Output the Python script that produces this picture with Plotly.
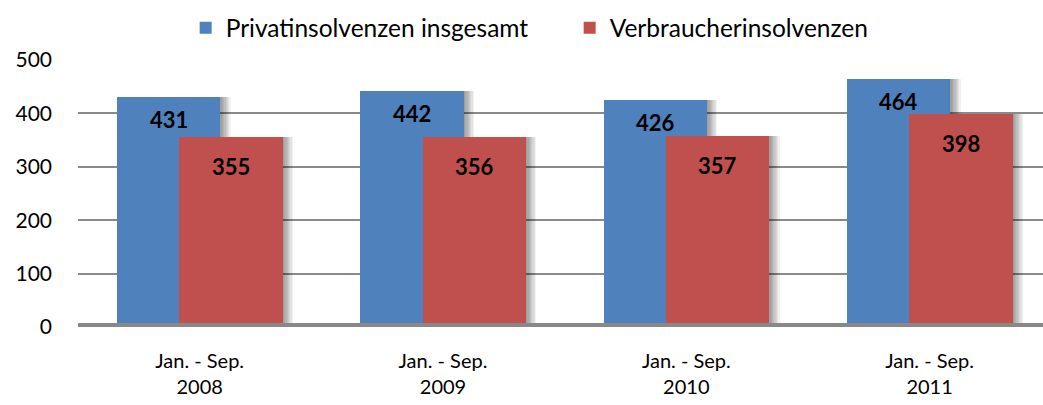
import plotly.graph_objects as go

categories = ["Jan. - Sep.<br>2008", "Jan. - Sep.<br>2009", "Jan. - Sep.<br>2010", "Jan. - Sep.<br>2011"]
privat = [431, 442, 426, 464]
verbraucher = [355, 356, 357, 398]
series_names = ["Privatinsolvenzen insgesamt", "Verbraucherinsolvenzen"]
y_ticks = [0, 100, 200, 300, 400, 500]

BLUE = "#4F81BD"
RED = "#C0504D"
FONT = "Lato"
BAR_W = 0.425
OFF_BLUE = -0.340
OFF_RED = -0.084
PX = 1 / 243.3  # one pixel in x data units

x = list(range(len(categories)))

fig = go.Figure()


def add_shadow(vals, off):
    for k in range(1, 9):
        fig.add_trace(go.Bar(
            x=x, y=vals, width=BAR_W + 1.3 * k * PX, offset=off,
            marker=dict(color="rgba(0,0,0,0.055)", line=dict(width=0)),
            showlegend=False, hoverinfo="skip"))


add_shadow(privat, OFF_BLUE)
fig.add_trace(go.Bar(x=x, y=privat, name=series_names[0], width=BAR_W, offset=OFF_BLUE,
                     marker=dict(color=BLUE, line=dict(width=0))))
add_shadow(verbraucher, OFF_RED)
fig.add_trace(go.Bar(x=x, y=verbraucher, name=series_names[1], width=BAR_W, offset=OFF_RED,
                     marker=dict(color=RED, line=dict(width=0))))

for i in x:
    fig.add_annotation(x=i + OFF_BLUE + BAR_W / 2, y=privat[i], text=str(privat[i]),
                       showarrow=False, yanchor="middle", yshift=-22.5,
                       font=dict(family=FONT, size=22, color="black", weight="bold"))
    fig.add_annotation(x=i + OFF_RED + BAR_W / 2, y=verbraucher[i], text=str(verbraucher[i]),
                       showarrow=False, yanchor="middle", yshift=-29.5,
                       font=dict(family=FONT, size=22, color="black", weight="bold"))

fig.add_shape(type="line", xref="paper", yref="y", x0=0, x1=1, y0=0, y1=0,
              line=dict(color="#888888", width=8), layer="above")

fig.update_layout(
    width=1043, height=405,
    margin=dict(l=78, r=0, t=60, b=78, autoexpand=False),
    paper_bgcolor="white", plot_bgcolor="white",
    barmode="overlay", bargap=0,
    font=dict(family=FONT, size=21, color="black"),
    legend=dict(orientation="h", xref="container", x=0.178, xanchor="left",
                yref="container", y=0.931, yanchor="middle",
                font=dict(family=FONT, size=24.5, color="black"), itemclick=False,
                entrywidth=339, entrywidthmode="pixels"),
    xaxis=dict(range=[-0.5, 3.466], tickvals=x, ticktext=categories, showgrid=False,
               zeroline=False, showline=False, ticks="", ticklabelstandoff=20,
               tickfont=dict(family=FONT, size=20)),
    yaxis=dict(range=[0, 500], tickvals=y_ticks, showgrid=True, gridcolor="#8a8a8a",
               gridwidth=1.6, zeroline=False, showline=False, ticks="",
               ticklabelstandoff=25, tickfont=dict(family=FONT, size=21)),
)

fig.write_html("out.html", config={"displayModeBar": False},
               post_script="document.body.style.margin='0';document.body.style.overflow='hidden';")
